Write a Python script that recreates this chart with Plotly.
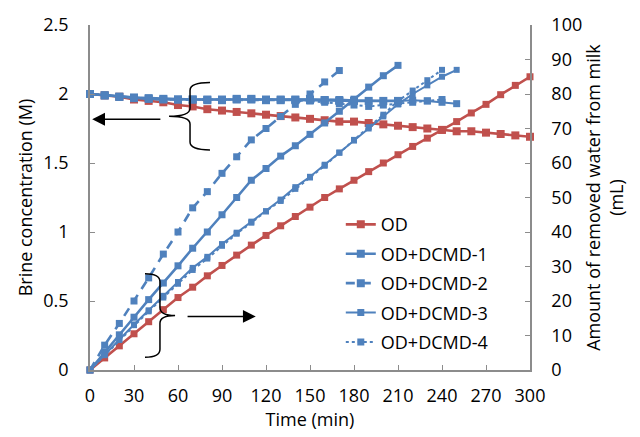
import plotly.graph_objects as go

# ---------------- data ----------------
t_od = [0, 10, 20, 30, 40, 50, 60, 70, 80, 90, 100, 110, 120, 130, 140, 150,
        160, 170, 180, 190, 200, 210, 220, 230, 240, 250, 260, 270, 280, 290, 300]
od_brine = [2.0, 1.99, 1.98, 1.96, 1.95, 1.94, 1.92, 1.91, 1.89, 1.88, 1.87, 1.86,
            1.85, 1.84, 1.83, 1.82, 1.81, 1.80, 1.80, 1.79, 1.78, 1.77, 1.76, 1.75,
            1.74, 1.73, 1.73, 1.72, 1.71, 1.70, 1.69]
od_water = [0, 3.5, 7, 10.5, 14, 17.5, 21, 24, 27.3, 30.3, 33.3, 36.2, 39, 41.8,
            44.5, 47.2, 50, 52.5, 55, 57.5, 60, 62.4, 64.8, 67.2, 69.5, 72, 74.5,
            77, 79.8, 82.5, 85]

t_d1 = [0, 10, 20, 30, 40, 50, 60, 70, 80, 90, 100, 110, 120, 130, 140, 150,
        160, 170, 180, 190, 200, 210]
d1_brine = [2.0, 1.99, 1.98, 1.975, 1.97, 1.965, 1.96, 1.96, 1.96, 1.96, 1.965,
            1.965, 1.96, 1.96, 1.96, 1.96, 1.955, 1.95, 1.95, 1.95, 1.95, 1.95]
d1_water = [0, 5.2, 10.2, 15.3, 20.4, 25.2, 30.2, 35.3, 40, 45, 50, 55, 58.4, 62,
            65, 68.3, 71.6, 75, 78.5, 82, 85.3, 88.3]

t_d2 = [0, 10, 20, 30, 40, 50, 60, 70, 80, 90, 100, 110, 120, 130, 140, 150,
        160, 170]
d2_brine = [2.0, 1.99, 1.98, 1.97, 1.965, 1.96, 1.96, 1.96, 1.955, 1.955, 1.96,
            1.96, 1.955, 1.955, 1.955, 1.955, 1.955, 1.955]
d2_water = [0, 7.2, 13.5, 20, 26.7, 33.6, 40, 47, 51.7, 57, 61.8, 66.7, 70,
            73.5, 77, 80, 83.5, 86.8]

t_d3 = [0, 10, 20, 30, 40, 50, 60, 70, 80, 90, 100, 110, 120, 130, 140, 150,
        160, 170, 180, 190, 200, 210, 220, 230, 240, 250]
d3_brine = [2.0, 1.99, 1.98, 1.97, 1.965, 1.96, 1.96, 1.96, 1.96, 1.96, 1.965,
            1.965, 1.96, 1.96, 1.96, 1.96, 1.96, 1.96, 1.955, 1.95, 1.95, 1.95,
            1.955, 1.95, 1.94, 1.93]
d3_water = [0, 4.5, 9, 13.2, 17.3, 21.5, 25.5, 29.6, 32.8, 36.5, 39.8, 43, 46,
            49.4, 53, 56, 59.5, 63, 66.5, 70, 73.5, 77, 80, 82.5, 85, 87]

t_d4 = [0, 10, 20, 30, 40, 50, 60, 70, 80, 90, 100, 110, 120, 130, 140, 150,
        160, 170, 180, 190, 200, 210, 220, 230, 240]
d4_brine = [2.0, 1.99, 1.98, 1.97, 1.965, 1.96, 1.96, 1.96, 1.96, 1.96, 1.965,
            1.965, 1.96, 1.96, 1.955, 1.95, 1.94, 1.93, 1.92, 1.91, 1.92, 1.93,
            1.94, 1.95, 1.96]
d4_water = [0, 4.3, 8.7, 13, 17, 21, 25, 29, 32.3, 36, 39.5, 42.7, 46, 49,
            52.5, 55.8, 59.2, 63, 66.7, 70.4, 74, 78, 81, 84, 87]

# ---------------- styling ----------------
BLUE = "#4F81BD"
RED = "#C0504D"
FONT = "Open Sans"
AXIS_COLOR = "#8C8C8C"
FS = 18

series = [
    ("OD", t_od, od_brine, od_water, RED, "solid", 2.6, 7),
    ("OD+DCMD-1", t_d1, d1_brine, d1_water, BLUE, "solid", 2.6, 7),
    ("OD+DCMD-2", t_d2, d2_brine, d2_water, BLUE, "9px,7px", 2.6, 7),
    ("OD+DCMD-3", t_d3, d3_brine, d3_water, BLUE, "solid", 2.0, 6),
    ("OD+DCMD-4", t_d4, d4_brine, d4_water, BLUE, "dot", 2.0, 6),
]

fig = go.Figure()
for name, t, br, wa, col, dash, lw, ms in series:
    fig.add_trace(go.Scatter(
        x=t, y=br, name=name, legendgroup=name, showlegend=True,
        mode="lines+markers", yaxis="y",
        line=dict(color=col, width=lw, dash=dash),
        marker=dict(symbol="square", size=ms + 1, color=col),
        cliponaxis=False))
    fig.add_trace(go.Scatter(
        x=t, y=wa, name=name, legendgroup=name, showlegend=False,
        mode="lines+markers", yaxis="y2",
        line=dict(color=col, width=lw, dash=dash),
        marker=dict(symbol="square", size=ms, color=col),
        cliponaxis=False))

# braces and arrows (annotation graphics)
fig.add_shape(type="path", xref="x", yref="y",
              path="M 81.8,2.083 Q 68.2,2.083 68.2,2.026 L 68.2,1.897 "
                   "Q 68.2,1.839 53.9,1.839 Q 68.2,1.839 68.2,1.782 "
                   "L 68.2,1.652 Q 68.2,1.595 81.8,1.595",
              line=dict(color="black", width=1.5))
fig.add_shape(type="path", xref="x", yref="y",
              path="M 37.5,0.697 Q 47.7,0.697 47.7,0.639 L 47.7,0.453 "
                   "Q 47.7,0.395 58,0.395 Q 47.7,0.395 47.7,0.338 "
                   "L 47.7,0.151 Q 47.7,0.093 37.5,0.093",
              line=dict(color="black", width=1.5))
fig.add_annotation(x=1.5, y=1.817, ax=49, ay=1.817, xref="x", yref="y",
                   axref="x", ayref="y", text="", showarrow=True,
                   arrowhead=2, arrowsize=1.6, arrowwidth=1.6, arrowcolor="black")
fig.add_annotation(x=113, y=0.388, ax=65.5, ay=0.388, xref="x", yref="y",
                   axref="x", ayref="y", text="", showarrow=True,
                   arrowhead=2, arrowsize=1.6, arrowwidth=1.6, arrowcolor="black")

axis_common = dict(showgrid=False, zeroline=False, showline=True,
                   linecolor=AXIS_COLOR, linewidth=1.5, ticks="inside",
                   tickcolor=AXIS_COLOR, ticklen=5, tickwidth=1.2,
                   tickfont=dict(family=FONT, size=FS, color="black"))

fig.update_layout(
    width=640, height=437,
    margin=dict(l=90, r=110, t=22, b=67),
    paper_bgcolor="white", plot_bgcolor="white",
    font=dict(family=FONT, size=FS, color="black"),
    showlegend=True,
    legend=dict(x=0.57, y=0.475, xanchor="left", yanchor="top",
                bgcolor="rgba(0,0,0,0)", font=dict(family=FONT, size=FS),
                traceorder="grouped", tracegroupgap=3),
    xaxis=dict(range=[0, 300], tick0=0, dtick=30,
               title=dict(text="Time (min)", standoff=2,
                          font=dict(family=FONT, size=FS)),
               ticklabelstandoff=9, **axis_common),
    yaxis=dict(range=[0, 2.5], tick0=0, dtick=0.5,
               title=dict(text="Brine concentration (M)", standoff=6,
                          font=dict(family=FONT, size=FS)),
               ticklabelstandoff=16, **axis_common),
    yaxis2=dict(range=[0, 100], tick0=0, dtick=10, overlaying="y",
                side="right",
                title=dict(text="Amount of removed water from milk<br>(mL)",
                           standoff=6, font=dict(family=FONT, size=FS)),
                ticklabelstandoff=16, **axis_common),
)

fig.write_html("out.html")
